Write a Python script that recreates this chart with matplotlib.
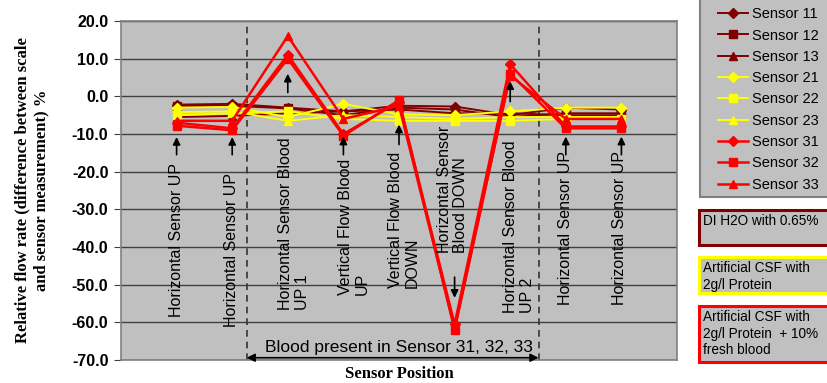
"""Relative flow rate per sensor position, nine sensors in three fluid groups."""
import matplotlib

matplotlib.use("Agg")
import matplotlib.pyplot as plt
from matplotlib.patches import Rectangle

W, H = 828, 383

positions = [
    "Horizontal Sensor UP",
    "Horizontal Sensor UP",
    "Horizontal Sensor Blood\nUP 1",
    "Vertical Flow Blood\nUP",
    "Vertical Flow Blood\nDOWN",
    "Horizontal Sensor\nBlood DOWN",
    "Horizontal Sensor Blood\nUP 2",
    "Horizontal Sensor UP",
    "Horizontal Sensor UP",
]

sensor_names = ["Sensor 11", "Sensor 12", "Sensor 13",
                "Sensor 21", "Sensor 22", "Sensor 23",
                "Sensor 31", "Sensor 32", "Sensor 33"]

s11 = [-2.2, -2.0, -3.0, -4.0, -2.5, -2.7, -5.0, -3.0, -3.5]
s12 = [-2.6, -2.5, -3.2, -5.0, -3.0, -3.5, -5.5, -4.5, -4.5]
s13 = [-5.5, -5.2, -4.5, -4.0, -3.5, -4.5, -4.5, -5.0, -5.0]
s21 = [-3.0, -2.8, -5.5, -2.0, -4.8, -5.0, -4.0, -3.0, -3.0]
s22 = [-5.0, -4.5, -4.0, -6.0, -6.5, -6.5, -6.5, -6.0, -6.0]
s23 = [-4.2, -4.0, -6.5, -5.0, -5.5, -6.0, -5.5, -5.5, -5.5]
s31 = [-7.0, -8.5, 11.0, -10.0, -1.5, -60.5, 8.5, -8.0, -8.0]
s32 = [-7.8, -9.0, 10.0, -10.5, -1.0, -62.0, 6.0, -8.5, -8.5]
s33 = [-6.5, -6.5, 16.0, -6.0, -2.5, -61.5, 5.5, -6.0, -6.0]

fluid_notes = ["DI H2O with 0.65%",
               "Artificial CSF with\n2g/l Protein",
               "Artificial CSF with\n2g/l Protein  + 10%\nfresh blood"]

DARK, YEL, RED = "#800000", "#ffff00", "#ff0000"
styles = [(DARK, "D"), (DARK, "s"), (DARK, "^"),
          (YEL, "D"), (YEL, "s"), (YEL, "^"),
          (RED, "D"), (RED, "s"), (RED, "^")]

SANS = ["Liberation Sans", "DejaVu Sans"]
SERIF = ["Liberation Serif", "DejaVu Serif"]


def fx(px):
    return px / W


def fy(py):
    return 1 - py / H


fig = plt.figure(figsize=(W / 100, H / 100), dpi=100)
ax = fig.add_axes([fx(121), fy(360), fx(677) - fx(121), fy(21) - fy(360)])
ax.set_facecolor("#c0c0c0")

x = list(range(1, 10))
handles = []
for vals, (col, mk), name in zip([s11, s12, s13, s21, s22, s23, s31, s32, s33],
                                 styles, sensor_names):
    lw = 1.8 if col == RED else 1.4
    ms = 5 if mk == "D" else 6
    h, = ax.plot(x, vals, color=col, marker=mk, ms=ms, lw=lw,
                 markeredgecolor=col, label=name, zorder=3)
    handles.append(h)

ax.set_xlim(0, 10)
ax.set_ylim(-70, 20)
ax.set_yticks(range(-70, 21, 10))
ax.set_yticklabels([f"{v:.1f}" for v in range(-70, 21, 10)],
                   fontfamily=SANS, fontsize=11.5, fontweight="bold")
ax.set_xticks([])
ax.tick_params(axis="y", length=5, color="#404040", pad=4)
ax.yaxis.grid(True, color="#404040", lw=1)
ax.set_axisbelow(True)
for sp in ax.spines.values():
    sp.set_color("#808080")
    sp.set_linewidth(1.2)

# section separators and blood bracket
for xv in (2.26, 7.51):
    ax.axvline(xv, color="#333333", ls=(0, (4, 3)), lw=1.2, zorder=2)
ax.annotate("", xy=(2.26, -69.4), xytext=(7.51, -69.4),
            arrowprops=dict(arrowstyle="<|-|>", color="black", lw=1.2,
                            mutation_scale=12, shrinkA=0, shrinkB=0))
ax.text(5.0, -66.6, "Blood present in Sensor 31, 32, 33", ha="center",
        va="center", fontsize=12.5, fontfamily=SANS)

# category labels, written vertically inside the plot
label_x = [0.99, 1.98, 3.11, 4.19, 5.09, 5.96, 7.16, 7.99, 8.97]
label_bottom = [-58.6, -61.3, -56.7, -52.7, -50.9, -41.6, -57.5, -55.4, -55.4]
for lx, ly, txt in zip(label_x, label_bottom, positions):
    ax.text(lx, ly, txt, rotation=90, ha="center", va="bottom",
            multialignment="left", fontsize=11.5, fontfamily=SANS,
            linespacing=1.1, zorder=4)

# marker arrows: (x, tail, tip)
arrows = [(1, -15.5, -10.8), (2, -15.5, -10.8), (3, 1.0, 6.0),
          (4, -15.5, -10.7), (5, -12.8, -7.5), (6, -48.0, -53.5),
          (7, -1.4, 4.0), (8, -15.5, -10.7), (9, -15.5, -10.7)]
for ax_x, tail, tip in arrows:
    ax.annotate("", xy=(ax_x, tip), xytext=(ax_x, tail),
                arrowprops=dict(arrowstyle="-|>", color="black", lw=1.2,
                                mutation_scale=11, shrinkA=0, shrinkB=0),
                zorder=5)

ax.set_ylabel("Relative flow rate (difference between scale\n"
              "and sensor measurement) %", fontfamily=SERIF,
              fontweight="bold", fontsize=12, labelpad=16, linespacing=1.25)
ax.set_xlabel("Sensor Position", fontfamily=SERIF, fontweight="bold",
              fontsize=12, labelpad=4)

# legend on the right, frame drawn separately, clipped by the figure edge
fig.add_artist(Rectangle((fx(700), fy(197)), fx(140), fy(-20) - fy(197),
                         transform=fig.transFigure, facecolor="#c0c0c0",
                         edgecolor="#808080", lw=1.5))
leg = fig.legend(handles=handles, loc="lower left",
                 bbox_to_anchor=(fx(714), fy(196)), borderaxespad=0,
                 prop={"family": SANS, "size": 10.5}, handlelength=2.0,
                 handletextpad=0.3, labelspacing=0.5, borderpad=0.3,
                 frameon=False)

# fluid description boxes
boxes = [(210, 245, DARK), (257, 293, "#ffff00"), (306, 362, RED)]
for (top, bot, col), note in zip(boxes, fluid_notes):
    fig.add_artist(Rectangle((fx(699), fy(bot)), fx(140), fy(top) - fy(bot),
                             transform=fig.transFigure, facecolor="#c0c0c0",
                             edgecolor=col, lw=2.2))
    fig.text(fx(703), fy(top + 4), note, ha="left", va="top", fontsize=9.8,
             fontfamily=SANS, linespacing=1.25)

fig.savefig("out.png", dpi=100)
